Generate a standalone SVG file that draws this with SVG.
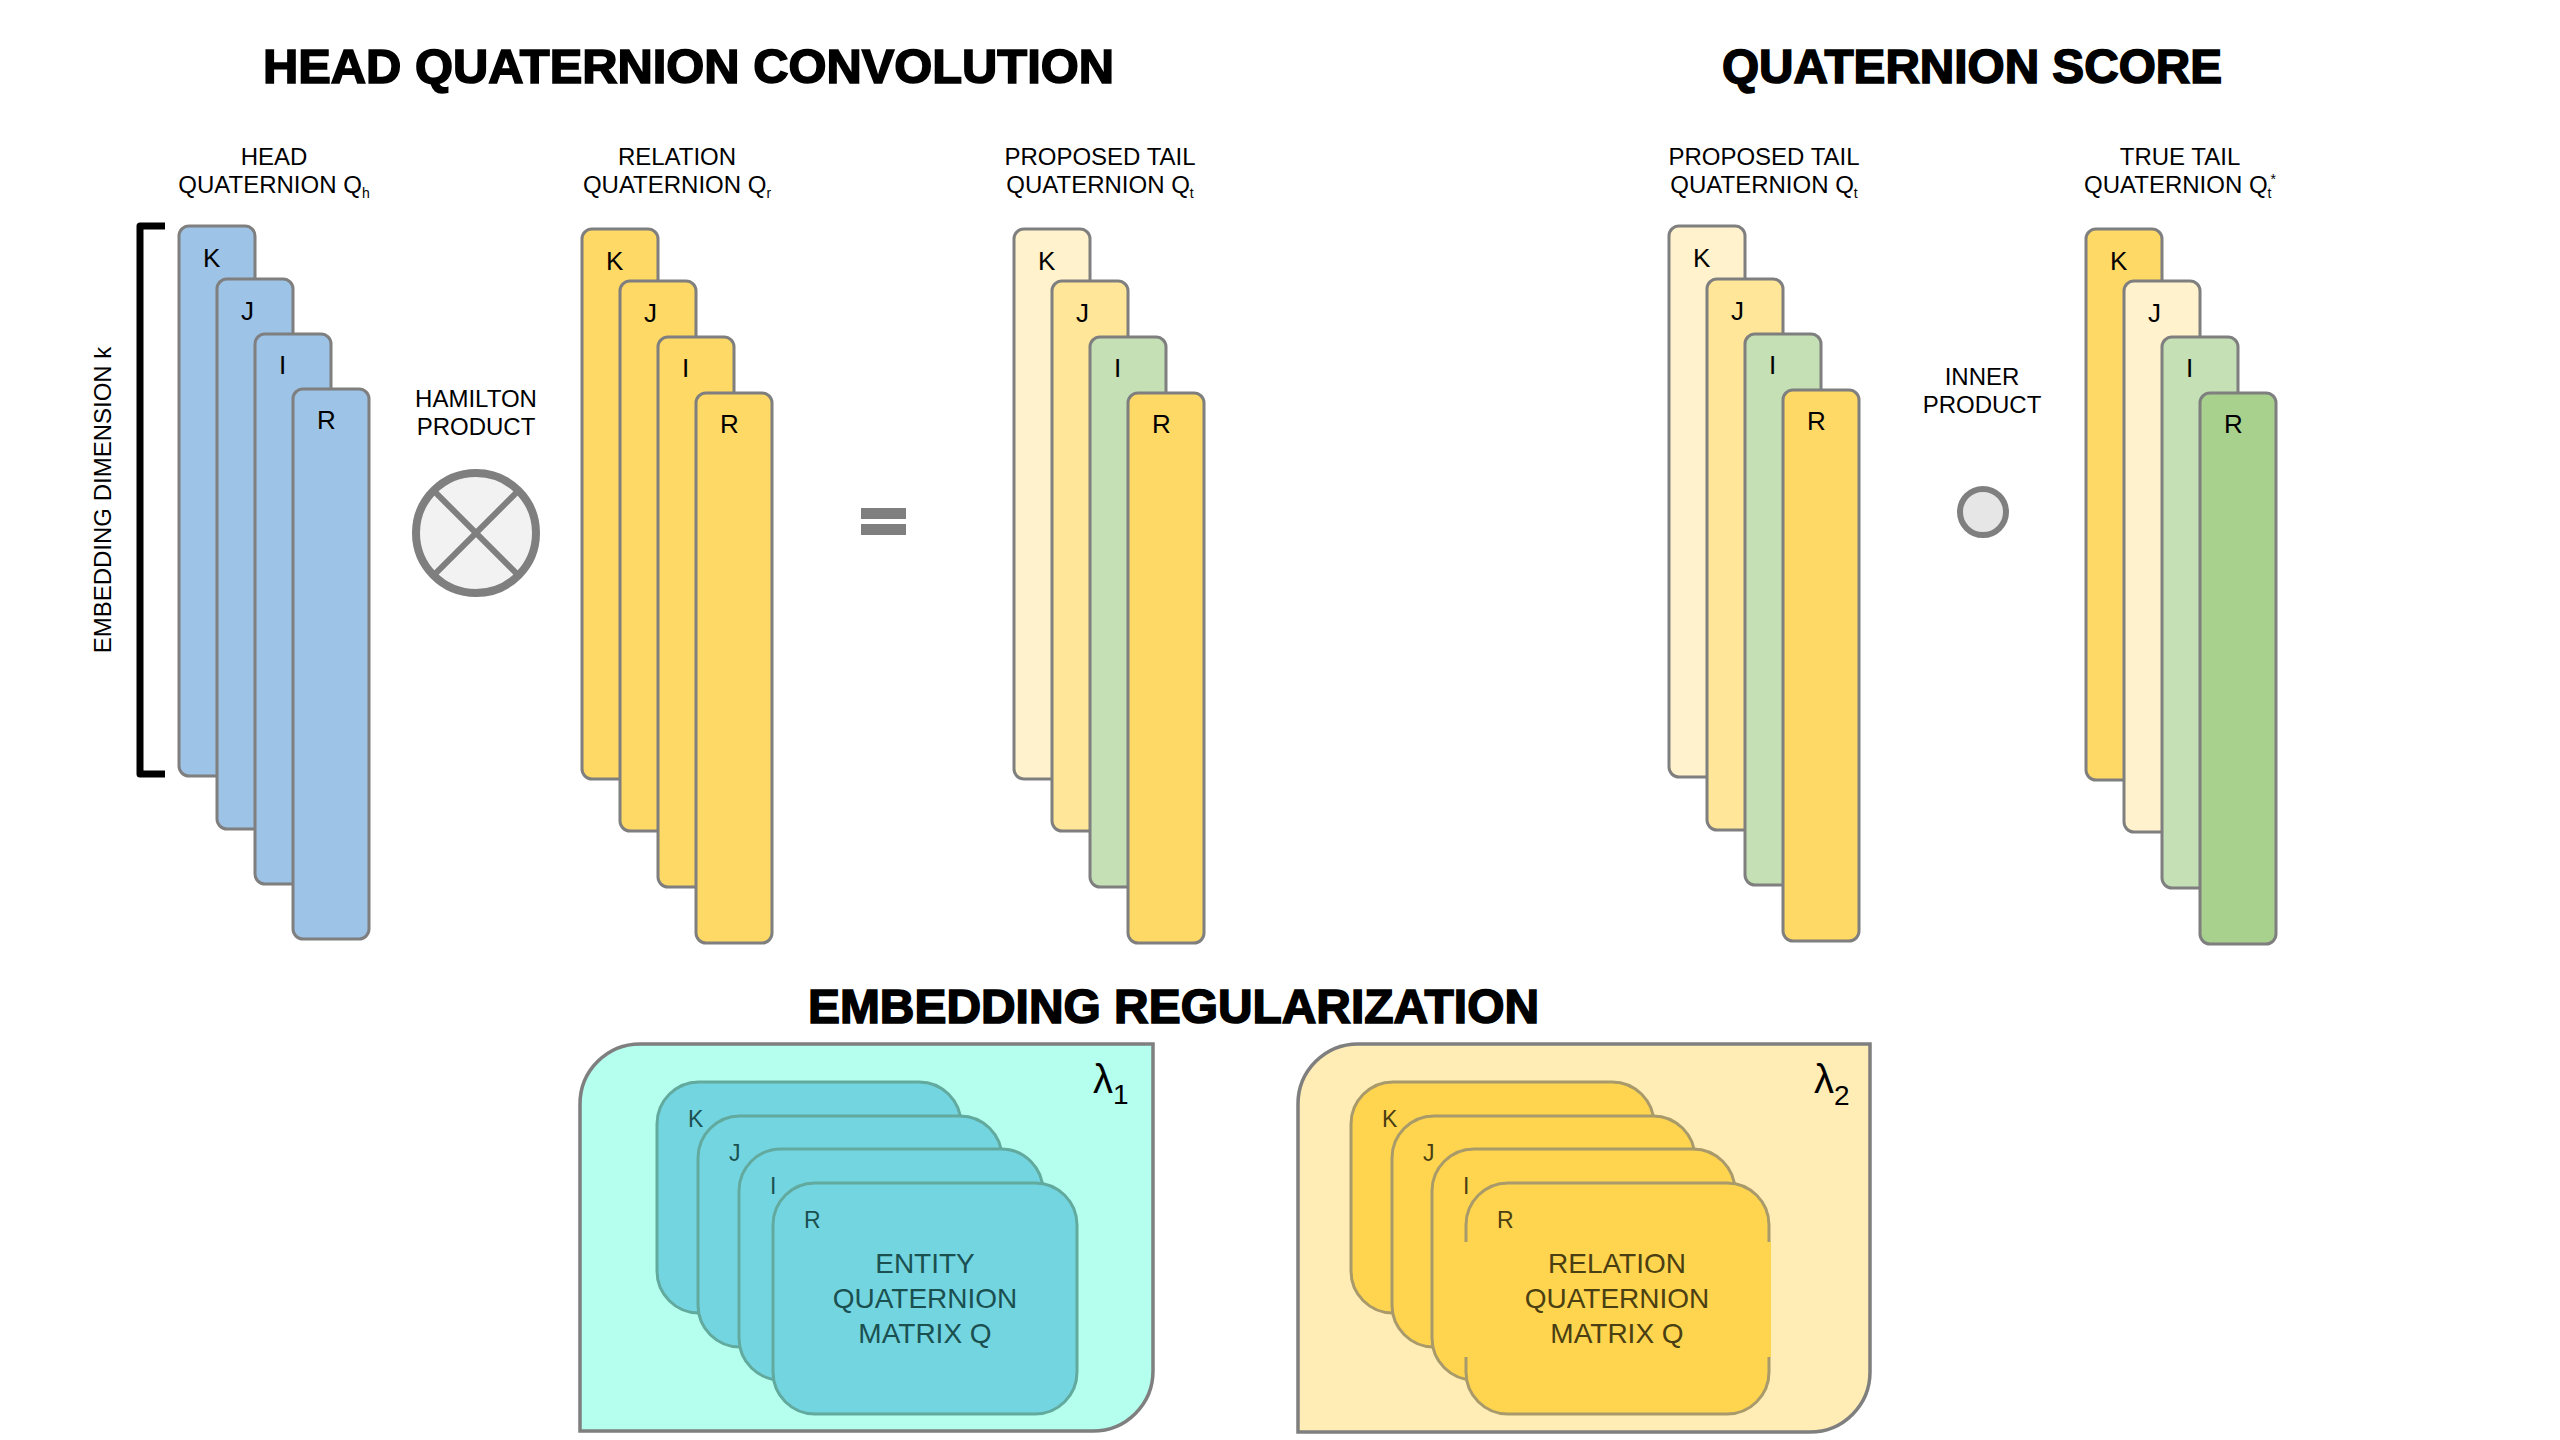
<svg xmlns="http://www.w3.org/2000/svg" width="2560" height="1440" viewBox="0 0 2560 1440">
<style>
text{font-family:"Liberation Sans",Arial,sans-serif;}
.title{font-size:48px;font-weight:bold;fill:#000;stroke:#000;stroke-width:1.6;}
.lbl{font-size:24px;fill:#000;text-anchor:middle;}
.sub{font-size:14px;}
.bar{stroke:#7f7f7f;stroke-width:3;}
.bl{font-size:26px;fill:#000;}
.blue{fill:#9dc3e6;}
.yel{fill:#ffd966;}
.cream{fill:#fff2cc;}
.lyel{fill:#ffe699;}
.lgrn{fill:#c5e0b4;}
.grn{fill:#a9d18e;}
.ecard{fill:#73d5e0;stroke:#62a99e;stroke-width:3;}
.rcard{fill:#ffd54f;stroke:#a89a6a;stroke-width:3;}
.etxt{fill:#1b5050;}
.rtxt{fill:#4a3f12;}
.cl{font-size:23px;}
.ct{font-size:28px;text-anchor:middle;}
</style>
<rect width="2560" height="1440" fill="#fff"/>

<!-- Titles -->
<text class="title" x="263" y="83" textLength="851" lengthAdjust="spacingAndGlyphs">HEAD QUATERNION CONVOLUTION</text>
<text class="title" x="1722" y="83" textLength="500" lengthAdjust="spacingAndGlyphs">QUATERNION SCORE</text>
<text class="title" x="808" y="1023" textLength="731" lengthAdjust="spacingAndGlyphs">EMBEDDING REGULARIZATION</text>

<!-- Embedding dimension bracket -->
<g id="dimension">
<path d="M165,226 H140 V774 H165" fill="none" stroke="#000" stroke-width="7" stroke-linejoin="round"/>
<text transform="translate(111,500) rotate(-90)" font-size="24" text-anchor="middle" fill="#000">EMBEDDING DIMENSION k</text>
</g>

<!-- Head quaternion -->
<g id="head">
<text class="lbl" x="274" y="165">HEAD</text>
<text class="lbl" x="274" y="193">QUATERNION Q<tspan class="sub" dy="5">h</tspan></text>
<rect class="bar blue" x="179" y="226" width="76" height="550" rx="10"/>
<text class="bl" x="203" y="267">K</text>
<rect class="bar blue" x="217" y="279" width="76" height="550" rx="10"/>
<text class="bl" x="241" y="320">J</text>
<rect class="bar blue" x="255" y="334" width="76" height="550" rx="10"/>
<text class="bl" x="279" y="374">I</text>
<rect class="bar blue" x="293" y="389" width="76" height="550" rx="10"/>
<text class="bl" x="317" y="429">R</text>
</g>

<!-- Hamilton product -->
<g id="hamilton">
<text class="lbl" x="476" y="407">HAMILTON</text>
<text class="lbl" x="476" y="435">PRODUCT</text>
<circle cx="476" cy="533" r="60" fill="#f2f2f2" stroke="#7f7f7f" stroke-width="8"/>
<path d="M433.6,490.6 L518.4,575.4 M518.4,490.6 L433.6,575.4" stroke="#7f7f7f" stroke-width="6"/>
</g>

<!-- Relation quaternion -->
<g id="relation">
<text class="lbl" x="677" y="165">RELATION</text>
<text class="lbl" x="677" y="193">QUATERNION Q<tspan class="sub" dy="5">r</tspan></text>
<rect class="bar yel" x="582" y="229" width="76" height="550" rx="10"/>
<text class="bl" x="606" y="270">K</text>
<rect class="bar yel" x="620" y="281" width="76" height="550" rx="10"/>
<text class="bl" x="644" y="322">J</text>
<rect class="bar yel" x="658" y="337" width="76" height="550" rx="10"/>
<text class="bl" x="682" y="377">I</text>
<rect class="bar yel" x="696" y="393" width="76" height="550" rx="10"/>
<text class="bl" x="720" y="433">R</text>
</g>

<!-- Equals -->
<g id="equals">
<rect x="861" y="508" width="45" height="11" fill="#7f7f7f"/>
<rect x="861" y="524" width="45" height="11" fill="#7f7f7f"/>
</g>

<!-- Proposed tail (convolution) -->
<g id="proposed-tail-1">
<text class="lbl" x="1100" y="165">PROPOSED TAIL</text>
<text class="lbl" x="1100" y="193">QUATERNION Q<tspan class="sub" dy="5">t</tspan></text>
<rect class="bar cream" x="1014" y="229" width="76" height="550" rx="10"/>
<text class="bl" x="1038" y="270">K</text>
<rect class="bar lyel" x="1052" y="281" width="76" height="550" rx="10"/>
<text class="bl" x="1076" y="322">J</text>
<rect class="bar lgrn" x="1090" y="337" width="76" height="550" rx="10"/>
<text class="bl" x="1114" y="377">I</text>
<rect class="bar yel" x="1128" y="393" width="76" height="550" rx="10"/>
<text class="bl" x="1152" y="433">R</text>
</g>

<!-- Proposed tail (score) -->
<g id="proposed-tail-2">
<text class="lbl" x="1764" y="165">PROPOSED TAIL</text>
<text class="lbl" x="1764" y="193">QUATERNION Q<tspan class="sub" dy="5">t</tspan></text>
<rect class="bar cream" x="1669" y="226" width="76" height="551" rx="10"/>
<text class="bl" x="1693" y="267">K</text>
<rect class="bar lyel" x="1707" y="279" width="76" height="551" rx="10"/>
<text class="bl" x="1731" y="320">J</text>
<rect class="bar lgrn" x="1745" y="334" width="76" height="551" rx="10"/>
<text class="bl" x="1769" y="374">I</text>
<rect class="bar yel" x="1783" y="390" width="76" height="551" rx="10"/>
<text class="bl" x="1807" y="430">R</text>
</g>

<!-- Inner product -->
<g id="inner-product">
<text class="lbl" x="1982" y="385">INNER</text>
<text class="lbl" x="1982" y="413">PRODUCT</text>
<circle cx="1983" cy="512" r="23" fill="#e7e6e6" stroke="#7f7f7f" stroke-width="6"/>
</g>

<!-- True tail -->
<g id="true-tail">
<text class="lbl" x="2180" y="165">TRUE TAIL</text>
<text class="lbl" x="2180" y="193">QUATERNION Q<tspan class="sub" dy="5">t</tspan><tspan class="sub" dx="-1" dy="-14">*</tspan></text>
<rect class="bar yel" x="2086" y="229" width="76" height="551" rx="10"/>
<text class="bl" x="2110" y="270">K</text>
<rect class="bar cream" x="2124" y="281" width="76" height="551" rx="10"/>
<text class="bl" x="2148" y="322">J</text>
<rect class="bar lgrn" x="2162" y="337" width="76" height="551" rx="10"/>
<text class="bl" x="2186" y="377">I</text>
<rect class="bar grn" x="2200" y="393" width="76" height="551" rx="10"/>
<text class="bl" x="2224" y="433">R</text>
</g>

<!-- Entity regularization -->
<g id="entity-regularization">
<path d="M640,1044 H1153 V1371 A60,60 0 0 1 1093,1431 H580 V1104 A60,60 0 0 1 640,1044 Z" fill="#b4ffee" stroke="#7f7f7f" stroke-width="3.5"/>
<text x="1093" y="1093" font-size="40" fill="#000">λ<tspan font-size="28" dy="11">1</tspan></text>
<rect class="ecard" x="657" y="1082" width="304" height="231" rx="42"/>
<text class="etxt cl" x="688" y="1127">K</text>
<rect class="ecard" x="698" y="1116" width="304" height="231" rx="42"/>
<text class="etxt cl" x="729" y="1161">J</text>
<rect class="ecard" x="739" y="1149" width="304" height="231" rx="42"/>
<text class="etxt cl" x="770" y="1194">I</text>
<rect class="ecard" x="773" y="1183" width="304" height="231" rx="42"/>
<text class="etxt cl" x="804" y="1228">R</text>
<text class="etxt ct" x="925" y="1273">ENTITY</text>
<text class="etxt ct" x="925" y="1308">QUATERNION</text>
<text class="etxt ct" x="925" y="1343">MATRIX Q</text>
</g>

<!-- Relation regularization -->
<g id="relation-regularization">
<path d="M1358,1044 H1870 V1372 A60,60 0 0 1 1810,1432 H1298 V1104 A60,60 0 0 1 1358,1044 Z" fill="#ffedb5" stroke="#7f7f7f" stroke-width="3.5"/>
<text x="1814" y="1093" font-size="40" fill="#000">λ<tspan font-size="28" dy="12">2</tspan></text>
<rect class="rcard" x="1351" y="1082" width="303" height="231" rx="42"/>
<text class="rtxt cl" x="1382" y="1127">K</text>
<rect class="rcard" x="1392" y="1116" width="303" height="231" rx="42"/>
<text class="rtxt cl" x="1423" y="1161">J</text>
<rect class="rcard" x="1432" y="1149" width="303" height="231" rx="42"/>
<text class="rtxt cl" x="1463" y="1194">I</text>
<rect class="rcard" x="1466" y="1183" width="303" height="231" rx="42"/>
<rect x="1464" y="1242" width="307" height="115" fill="#ffd54f"/>
<text class="rtxt cl" x="1497" y="1228">R</text>
<text class="rtxt ct" x="1617" y="1273">RELATION</text>
<text class="rtxt ct" x="1617" y="1308">QUATERNION</text>
<text class="rtxt ct" x="1617" y="1343">MATRIX Q</text>
</g>

<g id="connectors"/>
</svg>
